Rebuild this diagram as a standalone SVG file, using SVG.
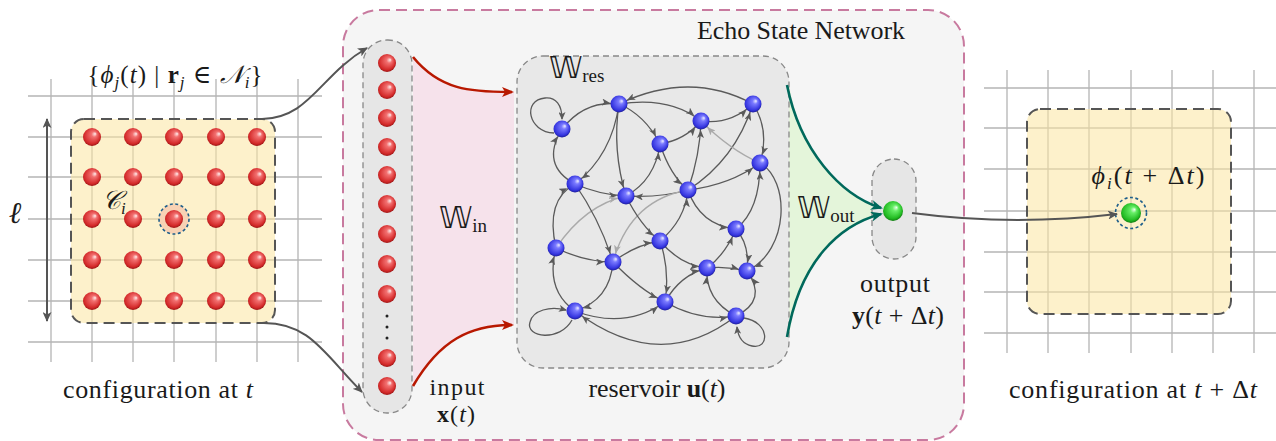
<svg xmlns="http://www.w3.org/2000/svg" xmlns:xlink="http://www.w3.org/1999/xlink" width="1276" height="441" viewBox="0 0 1276 441">
<style>
text{font-family:"Liberation Serif","DejaVu Serif",serif;fill:#1a1a1a}
.bb{font-family:"DejaVu Sans","Noto Sans",sans-serif}
.it{font-style:italic}
.grid line{stroke:#b4b4b4;stroke-width:1.3}
.edge{fill:none;stroke:#5a5a5a;stroke-width:1.3;marker-end:url(#ah)}
.edge.lt{stroke:#aaaaaa;marker-end:url(#ahl)}
.loop{fill:none;stroke:#5a5a5a;stroke-width:1.3;marker-end:url(#ah0)}
.conn{fill:none;stroke:#555;stroke-width:2;marker-end:url(#ahd)}
</style>
<defs>
<radialGradient id="gr" cx="0.45" cy="0.45" r="0.6" fx="0.68" fy="0.32">
<stop offset="0" stop-color="#fff0f0"/><stop offset="0.25" stop-color="#f27070"/><stop offset="0.75" stop-color="#d42a2a"/><stop offset="1" stop-color="#8a1010"/>
</radialGradient>
<radialGradient id="gb" cx="0.45" cy="0.45" r="0.6" fx="0.68" fy="0.32">
<stop offset="0" stop-color="#f0f0ff"/><stop offset="0.25" stop-color="#7a7aff"/><stop offset="0.75" stop-color="#3535e0"/><stop offset="1" stop-color="#151580"/>
</radialGradient>
<radialGradient id="gg" cx="0.45" cy="0.45" r="0.6" fx="0.68" fy="0.32">
<stop offset="0" stop-color="#f0fff0"/><stop offset="0.25" stop-color="#66ee66"/><stop offset="0.75" stop-color="#22bb22"/><stop offset="1" stop-color="#0c660c"/>
</radialGradient>
<circle id="rb" r="9" fill="url(#gr)"/>
<circle id="bn" r="8.5" fill="url(#gb)"/>
<marker id="ah" markerUnits="userSpaceOnUse" markerWidth="9" markerHeight="7" refX="17" refY="3.5" orient="auto"><path d="M0,0 L8,3.5 L0,7 L2,3.5 z" fill="#5a5a5a"/></marker>
<marker id="ahl" markerUnits="userSpaceOnUse" markerWidth="9" markerHeight="7" refX="17" refY="3.5" orient="auto"><path d="M0,0 L8,3.5 L0,7 L2,3.5 z" fill="#aaaaaa"/></marker>
<marker id="ah0" markerUnits="userSpaceOnUse" markerWidth="9" markerHeight="7" refX="7" refY="3.5" orient="auto"><path d="M0,0 L8,3.5 L0,7 L2,3.5 z" fill="#5a5a5a"/></marker>
<marker id="ahd" markerUnits="userSpaceOnUse" markerWidth="11" markerHeight="9" refX="9" refY="4.5" orient="auto"><path d="M0,0 L10,4.5 L0,9 L2.5,4.5 z" fill="#555"/></marker>
<marker id="ahd2" markerUnits="userSpaceOnUse" markerWidth="11" markerHeight="9" refX="9" refY="4.5" orient="auto-start-reverse"><path d="M0,0 L10,4.5 L0,9 L2.5,4.5 z" fill="#555"/></marker>
<marker id="ahr" markerUnits="userSpaceOnUse" markerWidth="13" markerHeight="10" refX="10" refY="5" orient="auto"><path d="M0,0 L12,5 L0,10 L3,5 z" fill="#b81800"/></marker>
<marker id="aht" markerUnits="userSpaceOnUse" markerWidth="13" markerHeight="10" refX="10" refY="5" orient="auto"><path d="M0,0 L12,5 L0,10 L3,5 z" fill="#00695c"/></marker>
</defs>

<!-- left configuration -->
<g id="config-t">
<g class="grid">
<line x1="51" y1="79" x2="51" y2="362"/><line x1="92" y1="79" x2="92" y2="362"/><line x1="133" y1="79" x2="133" y2="362"/><line x1="174" y1="79" x2="174" y2="362"/><line x1="216" y1="79" x2="216" y2="362"/><line x1="257" y1="79" x2="257" y2="362"/><line x1="298" y1="79" x2="298" y2="362"/>
<line x1="28" y1="96" x2="322" y2="96"/><line x1="28" y1="137" x2="322" y2="137"/><line x1="28" y1="177" x2="322" y2="177"/><line x1="28" y1="219" x2="322" y2="219"/><line x1="28" y1="260" x2="322" y2="260"/><line x1="28" y1="301" x2="322" y2="301"/><line x1="28" y1="342" x2="322" y2="342"/>
</g>
<rect x="71" y="119" width="204" height="204" rx="13" fill="#fbe6a0" fill-opacity="0.55" stroke="#555" stroke-width="2" stroke-dasharray="11,6"/>
<circle cx="174" cy="219" r="15" fill="#f8d2b4" stroke="#1f5f8b" stroke-width="1.6" stroke-dasharray="3,2.5"/>
<g>
<use href="#rb" x="92" y="137"/><use href="#rb" x="133" y="137"/><use href="#rb" x="174" y="137"/><use href="#rb" x="216" y="137"/><use href="#rb" x="257" y="137"/>
<use href="#rb" x="92" y="177"/><use href="#rb" x="133" y="177"/><use href="#rb" x="174" y="177"/><use href="#rb" x="216" y="177"/><use href="#rb" x="257" y="177"/>
<use href="#rb" x="92" y="219"/><use href="#rb" x="133" y="219"/><use href="#rb" x="174" y="219"/><use href="#rb" x="216" y="219"/><use href="#rb" x="257" y="219"/>
<use href="#rb" x="92" y="260"/><use href="#rb" x="133" y="260"/><use href="#rb" x="174" y="260"/><use href="#rb" x="216" y="260"/><use href="#rb" x="257" y="260"/>
<use href="#rb" x="92" y="301"/><use href="#rb" x="133" y="301"/><use href="#rb" x="174" y="301"/><use href="#rb" x="216" y="301"/><use href="#rb" x="257" y="301"/>
</g>
<line x1="47" y1="119" x2="47" y2="321" stroke="#555" stroke-width="2" marker-start="url(#ahd2)" marker-end="url(#ahd2)"/>
<text x="15" y="223" font-size="30" text-anchor="middle" class="it">ℓ</text>
<text x="102" y="209" font-size="26" class="it">𝒞<tspan font-size="17" dy="5">i</tspan></text>
<text x="175" y="83" font-size="25" text-anchor="middle" textLength="175">{<tspan class="it">ϕ</tspan><tspan class="it" font-size="17" dy="5">j</tspan><tspan dy="-5">(</tspan><tspan class="it">t</tspan>) | <tspan font-weight="bold">r</tspan><tspan class="it" font-size="17" dy="5">j</tspan><tspan dy="-5"> ∈ </tspan><tspan class="it">𝒩</tspan><tspan class="it" font-size="17" dy="5">i</tspan><tspan dy="-5">}</tspan></text>
<text x="158" y="398" font-size="26" text-anchor="middle" textLength="190">configuration at <tspan class="it">t</tspan></text>
</g>

<!-- ESN frame -->
<g id="esn">
<rect x="343" y="10" width="621" height="430" rx="36" fill="#f5f5f5" stroke="#c87a9f" stroke-width="2" stroke-dasharray="11,6"/>
<text x="801" y="39" font-size="26" text-anchor="middle" textLength="208">Echo State Network</text>
</g>

<!-- W_in and W_out areas -->
<g id="win">
<path d="M413,57 C440,90 470,92 514,92 L514,325 C470,325 440,340 413,386 Z" fill="#f6e2eb"/>
<text x="439" y="228" font-size="30"><tspan class="bb">𝕎</tspan><tspan font-size="19" dy="4">in</tspan></text>
</g>
<g id="wout">
<path d="M789,85 C800,150 840,195 882,208 L882,214 C840,225 800,260 789,337 Z" fill="#e4f5da"/>
<text x="797" y="218" font-size="30"><tspan class="bb">𝕎</tspan><tspan font-size="19" dy="4">out</tspan></text>
</g>

<!-- input layer -->
<g id="input">
<rect x="363" y="40" width="49" height="373" rx="24" fill="#e6e6e6" stroke="#888" stroke-width="1.3" stroke-dasharray="6,4"/>
<use href="#rb" x="387" y="63"/><use href="#rb" x="387" y="90"/><use href="#rb" x="387" y="118"/><use href="#rb" x="387" y="147"/><use href="#rb" x="387" y="175"/><use href="#rb" x="387" y="204"/><use href="#rb" x="387" y="234"/><use href="#rb" x="387" y="264"/><use href="#rb" x="387" y="294"/><use href="#rb" x="387" y="358"/><use href="#rb" x="387" y="386"/>
<circle cx="387" cy="316" r="1.5" fill="#222"/><circle cx="387" cy="327" r="1.5" fill="#222"/><circle cx="387" cy="338" r="1.5" fill="#222"/>
<text x="457" y="395" font-size="24" text-anchor="middle" textLength="55">input</text>
<text x="456" y="422" font-size="24" text-anchor="middle" textLength="38"><tspan font-weight="bold">x</tspan>(<tspan class="it">t</tspan>)</text>
</g>

<!-- reservoir -->
<g id="reservoir">
<rect x="517" y="56" width="272" height="312" rx="26" fill="#e8e8e8" stroke="#888" stroke-width="1.3" stroke-dasharray="6,4"/>
<text x="549" y="78" font-size="30"><tspan class="bb">𝕎</tspan><tspan font-size="19" dy="4">res</tspan></text>
<text x="657" y="397" font-size="26" text-anchor="middle" textLength="137">reservoir <tspan font-weight="bold">u</tspan>(<tspan class="it">t</tspan>)</text>
</g>

<!-- output -->
<g id="output">
<rect x="872" y="159" width="44" height="100" rx="22" fill="#e6e6e6" stroke="#888" stroke-width="1.3" stroke-dasharray="6,4"/>
<circle cx="893" cy="211" r="10" fill="url(#gg)"/>
<text x="895" y="292" font-size="26" text-anchor="middle" textLength="70">output</text>
<text x="898" y="324" font-size="26" text-anchor="middle" textLength="92"><tspan font-weight="bold">y</tspan>(<tspan class="it">t</tspan> + Δ<tspan class="it">t</tspan>)</text>
</g>

<!-- right configuration -->
<g id="config-tdt">
<g class="grid">
<line x1="1007" y1="70" x2="1007" y2="353"/><line x1="1048" y1="70" x2="1048" y2="353"/><line x1="1089" y1="70" x2="1089" y2="353"/><line x1="1131" y1="70" x2="1131" y2="353"/><line x1="1172" y1="70" x2="1172" y2="353"/><line x1="1213" y1="70" x2="1213" y2="353"/><line x1="1254" y1="70" x2="1254" y2="353"/>
<line x1="984" y1="88" x2="1276" y2="88"/><line x1="984" y1="128" x2="1276" y2="128"/><line x1="984" y1="169" x2="1276" y2="169"/><line x1="984" y1="211" x2="1276" y2="211"/><line x1="984" y1="252" x2="1276" y2="252"/><line x1="984" y1="292" x2="1276" y2="292"/><line x1="984" y1="333" x2="1276" y2="333"/>
</g>
<rect x="1027" y="109" width="204" height="205" rx="13" fill="#fbe6a0" fill-opacity="0.55" stroke="#555" stroke-width="2" stroke-dasharray="11,6"/>
<circle cx="1131" cy="213" r="15.5" fill="none" stroke="#1f5f8b" stroke-width="1.6" stroke-dasharray="3,2.5"/>
<circle cx="1131" cy="213" r="10" fill="url(#gg)"/>
<text x="1148" y="184" font-size="26" text-anchor="middle" textLength="113"><tspan class="it">ϕ</tspan><tspan class="it" font-size="17" dy="5">i</tspan><tspan dy="-5">(</tspan><tspan class="it">t</tspan> + Δ<tspan class="it">t</tspan>)</text>
<text x="1133" y="398" font-size="26" text-anchor="middle" textLength="248">configuration at <tspan class="it">t</tspan> + Δ<tspan class="it">t</tspan></text>
</g>

<!-- connectors -->
<g id="connectors">
<path class="conn" d="M262,119 C310,118 320,75 367,48"/>
<path class="conn" d="M262,323 C310,322 325,355 362,392"/>
<path class="conn" d="M912,213 C980,222 1050,222 1117,214"/>
<path d="M413,57 C440,90 470,92 512,92" fill="none" stroke="#b81800" stroke-width="2.6" marker-end="url(#ahr)"/>
<path d="M413,386 C440,340 470,325 512,325" fill="none" stroke="#b81800" stroke-width="2.6" marker-end="url(#ahr)"/>
<path d="M787,85 C800,150 840,195 881,208" fill="none" stroke="#00695c" stroke-width="2.6" marker-end="url(#aht)"/>
<path d="M787,337 C800,260 840,225 881,214" fill="none" stroke="#00695c" stroke-width="2.6" marker-end="url(#aht)"/>
<g id="reservoir-edges">
<path class="loop" d="M554,133 C528,132 522,100 545,98 C556,97 562,105 562,119"/>
<path class="edge" d="M562,129 Q585,100 619,104"/>
<path class="edge" d="M753,104 Q690,70 619,104"/>
<path class="edge" d="M619,104 Q670,96 701,121"/>
<path class="edge" d="M619,104 Q645,115 660,144"/>
<path class="edge" d="M619,104 Q612,155 575,184"/>
<path class="edge" d="M619,104 Q612,150 626,196"/>
<path class="edge" d="M575,184 Q540,165 562,129"/>
<path class="edge" d="M575,184 Q600,195 626,196"/>
<path class="edge" d="M626,196 Q655,180 660,144"/>
<path class="edge" d="M688,190 Q660,198 626,196"/>
<path class="edge" d="M701,121 Q730,125 753,104"/>
<path class="edge" d="M660,144 Q685,140 701,121"/>
<path class="edge" d="M660,144 Q670,175 688,190"/>
<path class="edge" d="M688,190 Q700,155 701,121"/>
<path class="edge" d="M688,190 Q735,160 753,104"/>
<path class="edge" d="M688,190 Q730,185 760,163"/>
<path class="edge" d="M753,104 Q770,130 760,163"/>
<path class="edge lt" d="M760,163 Q730,150 701,121"/>
<path class="edge" d="M760,163 C790,180 790,250 747,271"/>
<path class="edge" d="M736,229 Q760,210 760,163"/>
<path class="edge" d="M688,190 Q700,225 736,229"/>
<path class="edge lt" d="M688,190 Q630,200 613,262"/>
<path class="edge lt" d="M556,248 Q585,205 626,196"/>
<path class="edge" d="M556,248 Q545,200 575,184"/>
<path class="edge" d="M575,184 Q600,220 613,262"/>
<path class="edge" d="M556,248 Q585,262 613,262"/>
<path class="edge" d="M613,262 Q635,245 660,241"/>
<path class="edge" d="M613,262 Q610,300 575,311"/>
<path class="edge" d="M613,262 Q640,290 665,302"/>
<path class="edge" d="M575,311 Q545,290 556,248"/>
<path class="loop" d="M572,320 C560,342 525,338 530,322 C533,310 550,306 566,310"/>
<path class="edge" d="M575,311 Q625,330 665,302"/>
<path class="edge" d="M736,316 Q660,375 575,311"/>
<path class="edge" d="M626,196 Q640,225 660,241"/>
<path class="edge" d="M660,241 Q685,220 688,190"/>
<path class="edge" d="M660,241 Q680,265 707,268"/>
<path class="edge" d="M660,241 Q670,270 665,302"/>
<path class="edge" d="M707,268 Q725,255 736,229"/>
<path class="edge" d="M736,229 Q750,245 747,271"/>
<path class="edge" d="M707,268 Q727,266 747,271"/>
<path class="edge" d="M665,302 Q680,275 707,268"/>
<path class="edge" d="M665,302 Q700,322 736,316"/>
<path class="edge" d="M736,316 Q705,300 707,268"/>
<path class="edge" d="M736,316 Q768,300 747,271"/>
<path class="loop" d="M744,318 C770,322 770,350 752,346 C742,344 738,336 737,327"/>
</g>
</g>

<!-- reservoir nodes -->
<g id="nA"><use href="#bn" x="562" y="129"/></g>
<g id="nB"><use href="#bn" x="619" y="104"/></g>
<g id="nC"><use href="#bn" x="701" y="121"/></g>
<g id="nD"><use href="#bn" x="753" y="104"/></g>
<g id="nE"><use href="#bn" x="660" y="144"/></g>
<g id="nF"><use href="#bn" x="760" y="163"/></g>
<g id="nG"><use href="#bn" x="575" y="184"/></g>
<g id="nH"><use href="#bn" x="626" y="196"/></g>
<g id="nI"><use href="#bn" x="688" y="190"/></g>
<g id="nJ"><use href="#bn" x="736" y="229"/></g>
<g id="nK"><use href="#bn" x="556" y="248"/></g>
<g id="nL"><use href="#bn" x="660" y="241"/></g>
<g id="nM"><use href="#bn" x="613" y="262"/></g>
<g id="nN"><use href="#bn" x="707" y="268"/></g>
<g id="nO"><use href="#bn" x="747" y="271"/></g>
<g id="nP"><use href="#bn" x="575" y="311"/></g>
<g id="nQ"><use href="#bn" x="665" y="302"/></g>
<g id="nR"><use href="#bn" x="736" y="316"/></g>
</svg>
